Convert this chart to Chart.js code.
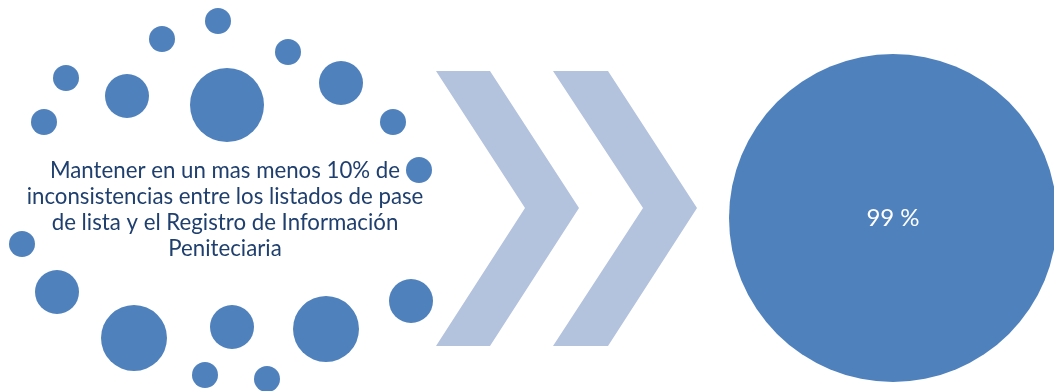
<!DOCTYPE html>
<html>
<head>
<meta charset="utf-8">
<script src="https://cdn.jsdelivr.net/npm/chart.js@4"></script>
<style>
  html, body { margin: 0; padding: 0; background: #fff; }
  #wrap { width: 1054px; height: 391px; }
</style>
</head>
<body>
<div id="wrap"><canvas id="grafica" width="1054" height="391"></canvas></div>
<script>
// datos (unidades = pixeles de la lamina)
const puntosX = [218, 162, 288, 66, 341, 127, 227, 44, 393, 419, 22, 57, 411, 134, 232, 326, 205, 267];
const puntosY = [21, 39, 52, 78, 83, 96, 105, 122, 122, 170, 244, 292, 301, 338, 327, 329, 375, 379];
const puntosR = [13, 13, 13, 13, 22, 22, 37, 13, 13, 13, 13, 22, 22, 33, 22, 33, 13, 13];

const resultadoX = [893];
const resultadoY = [218];
const resultadoR = [164];
const resultadoTexto = "99 %";

const flecha1X = [436, 490, 579, 490, 436, 525, 436];
const flecha1Y = [71, 71, 208, 346, 346, 208, 71];
const flecha2X = [553, 608, 697, 608, 553, 643, 553];
const flecha2Y = [71, 71, 208, 346, 346, 208, 71];

const lineasTexto = [
    "Mantener en un mas menos 10% de",
    "inconsistencias entre los listados de pase",
    "de lista y el Registro de Información",
    "Peniteciaria"
];

const AZUL = "#4f81bd";
const AZUL_CLARO = "#b3c2dd";
const TEXTO = "#1f3f6e";
const FUENTE = "Lato, 'Open Sans', sans-serif";

const aPuntos = (xs, ys, rs) => xs.map((x, i) => ({ x: x, y: ys[i], r: rs ? rs[i] : 0 }));

// texto del objetivo y del resultado
const textos = {
    id: "textos",
    afterDatasetsDraw(chart) {
        const { ctx, scales } = chart;
        ctx.save();
        ctx.textAlign = "center";
        ctx.textBaseline = "middle";

        // ajustar tamano para que la linea mas ancha mida ~397px
        let size = 20;
        ctx.font = size + "px " + FUENTE;
        const ancho = Math.max(...lineasTexto.map(l => ctx.measureText(l).width));
        size = size * 397 / ancho;
        ctx.font = size + "px " + FUENTE;
        ctx.fillStyle = TEXTO;
        const cx = scales.x.getPixelForValue(225);
        lineasTexto.forEach((l, i) => {
            ctx.fillText(l, cx, scales.y.getPixelForValue(171 + i * 26));
        });

        ctx.font = "24px " + FUENTE;
        ctx.fillStyle = "#ffffff";
        ctx.fillText(resultadoTexto, scales.x.getPixelForValue(resultadoX[0]), scales.y.getPixelForValue(resultadoY[0]));
        ctx.restore();
    }
};

const chart = new Chart(document.getElementById("grafica"), {
    type: "bubble",
    data: {
        datasets: [
            {
                type: "line",
                data: aPuntos(flecha1X, flecha1Y),
                backgroundColor: AZUL_CLARO,
                borderWidth: 0,
                pointRadius: 0,
                fill: "shape",
                tension: 0
            },
            {
                type: "line",
                data: aPuntos(flecha2X, flecha2Y),
                backgroundColor: AZUL_CLARO,
                borderWidth: 0,
                pointRadius: 0,
                fill: "shape",
                tension: 0
            },
            {
                data: aPuntos(puntosX, puntosY, puntosR),
                backgroundColor: AZUL,
                borderWidth: 0
            },
            {
                data: aPuntos(resultadoX, resultadoY, resultadoR),
                backgroundColor: AZUL,
                borderWidth: 0
            }
        ]
    },
    options: {
        responsive: false,
        animation: false,
        layout: { padding: 0, autoPadding: false },
        scales: {
            x: { type: "linear", min: 0, max: 1054, display: false },
            y: { type: "linear", min: 0, max: 391, reverse: true, display: false }
        },
        plugins: {
            legend: { display: false },
            tooltip: { enabled: false }
        }
    },
    plugins: [textos]
});
</script>
</body>
</html>
